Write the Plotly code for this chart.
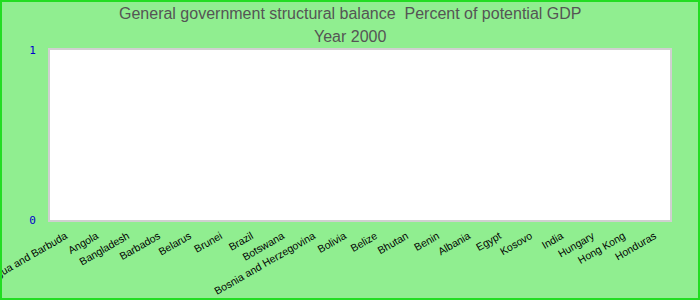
import plotly.graph_objects as go

countries = ["Antigua and Barbuda", "Angola", "Bangladesh", "Barbados", "Belarus", "Brunei",
             "Brazil", "Botswana", "Bosnia and Herzegovina", "Bolivia", "Belize", "Bhutan",
             "Benin", "Albania", "Egypt", "Kosovo", "India", "Hungary", "Hong Kong", "Honduras"]
values = [None] * len(countries)
y_ticks = [0, 1]
title_lines = ["General government structural balance  Percent of potential GDP", "Year 2000"]

W, H = 700, 300
ml, mr, mt, mb = 50, 30, 50, 80
pw, ph = W - ml - mr, H - mt - mb

def py(pix):
    return (mt + ph - pix) / ph

fig = go.Figure(go.Bar(x=countries, y=values, marker_color="#4a7ebb"))

fig.update_layout(
    width=W, height=H,
    margin=dict(l=ml, r=mr, t=mt, b=mb, pad=0, autoexpand=False),
    paper_bgcolor="#90EE90",
    plot_bgcolor="white",
    font=dict(family="Liberation Sans, Arial, sans-serif"),
    showlegend=False,
    xaxis=dict(type="category", categoryorder="array", categoryarray=countries,
               tickangle=-30, tickfont=dict(size=10.5, color="black"), automargin=False,
               showgrid=False, showline=True, linecolor="#d0d0d0", linewidth=2, mirror=True,
               ticks="", ticklabelstandoff=4),
    yaxis=dict(range=[0, 1], tickvals=y_ticks, ticktext=[str(v) for v in y_ticks], automargin=False,
               tickfont=dict(size=11, color="#0000cc", family="DejaVu Sans Mono, monospace"),
               showgrid=False, zeroline=False,
               showline=True, linecolor="#d0d0d0", linewidth=2, mirror=True,
               ticks="outside", ticklen=10, tickcolor="rgba(0,0,0,0)"),
)

for txt, ypix in zip(title_lines, [13, 36]):
    fig.add_annotation(text=txt, xref="paper", yref="paper", x=(350 - ml) / pw, y=py(ypix),
                       xanchor="center", yanchor="middle", showarrow=False,
                       font=dict(size=16, color="#555555"))

fig.add_shape(type="rect", xref="paper", yref="paper",
              x0=(1 - ml) / pw, x1=(W - 1 - ml) / pw,
              y0=py(H - 1), y1=py(1),
              line=dict(color="#22dd22", width=2), fillcolor="rgba(0,0,0,0)", layer="above")

fig.write_html("out.html")
